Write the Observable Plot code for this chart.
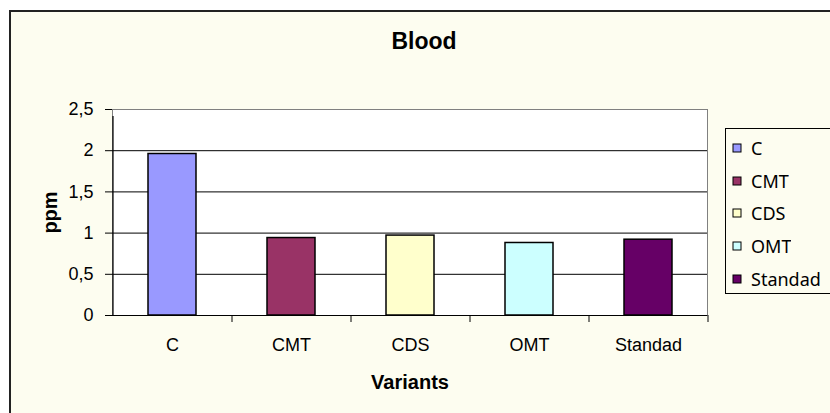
<!DOCTYPE html>
<html>
<head>
<meta charset="utf-8">
<script src="https://cdn.jsdelivr.net/npm/d3@7"></script>
<script src="https://cdn.jsdelivr.net/npm/@observablehq/plot@0.6"></script>
<style>
  html, body { margin: 0; padding: 0; background: #ffffff; }
  #wrap { position: relative; width: 830px; height: 413px; overflow: hidden; font-family: "Liberation Sans", Arial, sans-serif; }
  #area { position: absolute; left: 9px; top: 10px; width: 900px; height: 500px; border-left: 2px solid #222; border-top: 2px solid #222; background: #fdfdf0; }
  #title { position: absolute; left: 324px; width: 200px; top: 30px; text-align: center; font-weight: bold; font-size: 23px; line-height: 23px; color: #000; }
  #chart { position: absolute; left: 0; top: 0; }
  #chart g[aria-label="y-axis label"], #chart g[aria-label="x-axis label"] { font-weight: bold; font-size: 20px; }
  #legend { position: absolute; left: 725px; top: 128px; width: 110px; height: 166px; border: 1px solid #000; background: #fdfdf0; box-sizing: border-box; padding: 3px 0 0 7px; }
  #legend .leg-swatch { display: flex; align-items: center; height: 32.6px; margin: 0 !important; padding: 0 !important; font-size: 18px; color: #000; }
  #legend .leg-swatch svg { margin-right: 10px !important; overflow: visible; }
  #legend .leg-swatch svg rect { stroke: #000; stroke-width: 1px; }
</style>
</head>
<body>
<div id="wrap">
  <div id="area"></div>
  <div id="chart"></div>
  <div id="title">Blood</div>
  <div id="legend"></div>
</div>
<script>
const categories = ["C", "CMT", "CDS", "OMT", "Standad"];
const values = [1.96, 0.94, 0.97, 0.88, 0.92];
const colors = ["#9999FF", "#993366", "#FFFFCC", "#CCFFFF", "#660066"];
const yTicks = [0, 0.5, 1, 1.5, 2, 2.5];
const gridValues = [0.5, 1, 1.5, 2];

const data = categories.map((c, i) => ({variant: c, ppm: values[i]}));
const fmt = d => String(d).replace(".", ",");

const W = 830, H = 413, mL = 112, mR = 123, mT = 109, mB = 98;
const step = (W - mL - mR) / categories.length;

const chart = Plot.plot({
  width: W,
  height: H,
  marginLeft: mL,
  marginRight: mR,
  marginTop: mT,
  marginBottom: mB,
  style: {fontFamily: "'Liberation Sans', Arial, sans-serif", fontSize: "18px", background: "transparent", color: "#000", overflow: "visible"},
  x: {domain: categories, paddingInner: 0.6, paddingOuter: 0.3},
  y: {domain: [0, 2.5]},
  color: {domain: categories, range: colors},
  marks: [
    Plot.frame({fill: "white", stroke: "#808080"}),
    Plot.ruleY(gridValues, {stroke: "#000", strokeWidth: 1}),
    Plot.barY(data, {x: "variant", y: "ppm", fill: "variant", stroke: "#000", strokeWidth: 1.5}),
    Plot.ruleY([0], {stroke: "#000", strokeWidth: 1.2, insetLeft: -7}),
    Plot.ruleX(categories.slice(0, 1), {x: d => d, dx: -step / 2, y1: 0, y2: 2.5, stroke: "#000", strokeWidth: 1.2, insetBottom: -7}),
    Plot.ruleX(categories.slice(1), {x: d => d, dx: -step / 2, y1: 0, y2: 0, stroke: "#000", insetBottom: -7}),
    Plot.ruleX(categories.slice(-1), {x: d => d, dx: step / 2, y1: 0, y2: 0, stroke: "#000", insetBottom: -7}),
    Plot.axisX({tickSize: 0, tickPadding: 23, label: "Variants", labelArrow: "none", labelAnchor: "center", labelOffset: 73, fontSize: 18}),
    Plot.axisY({ticks: yTicks, tickSize: 7, tickPadding: 12, tickFormat: fmt, label: "ppm", labelArrow: "none", labelAnchor: "center", labelOffset: 70, fontSize: 18})
  ]
});
document.getElementById("chart").appendChild(chart);

const legend = chart.legend("color", {legend: "swatches", columns: 1, swatchSize: 8, className: "leg"});
document.getElementById("legend").appendChild(legend);
</script>
</body>
</html>
